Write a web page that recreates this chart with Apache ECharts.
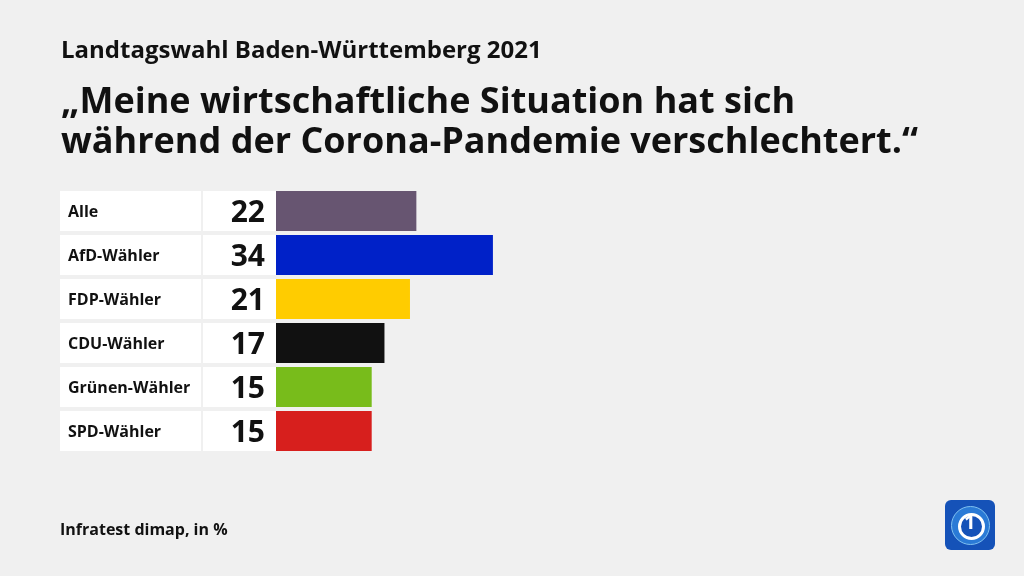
<!DOCTYPE html>
<html><head><meta charset="utf-8">
<script src="https://cdn.jsdelivr.net/npm/echarts@6/dist/echarts.min.js"></script>
<style>html,body{margin:0;padding:0;background:#f0f0f0}#c{width:1024px;height:576px}</style>
</head><body><div id="c"></div>
<script>
const categories = ["Alle", "AfD-Wähler", "FDP-Wähler", "CDU-Wähler", "Grünen-Wähler", "SPD-Wähler"];
const values = [22, 34, 21, 17, 15, 15];
const colors = ["#675571", "#0021c8", "#ffcc00", "#111111", "#78bc1b", "#d71f1d"];
const FONT = "'Open Sans', 'Noto Sans', sans-serif";

const chart = echarts.init(document.getElementById('c'));
chart.setOption({
  backgroundColor: '#f0f0f0',
  animation: false,
  grid: { left: 276, top: 189, width: 638, height: 264 },
  xAxis: { type: 'value', min: 0, max: 100, show: false },
  yAxis: { type: 'category', data: categories, inverse: true, show: false },
  title: [
    { text: 'Landtagswahl Baden-Württemberg 2021', left: 56, top: 34,
      textStyle: { fontFamily: FONT, fontSize: 24, fontWeight: 'bold', color: '#111' } },
    { text: '„Meine wirtschaftliche Situation hat sich\nwährend der Corona-Pandemie verschlechtert.“', left: 56, top: 78,
      textStyle: { fontFamily: FONT, fontSize: 36, fontWeight: 'bold', color: '#111', lineHeight: 40 } },
    { text: 'Infratest dimap, in %', left: 55, top: 517,
      textStyle: { fontFamily: FONT, fontSize: 16, fontWeight: 'bold', color: '#111' } }
  ],
  series: [
    {
      type: 'custom',
      silent: true,
      data: categories.map((c, i) => [0, i, values[i]]),
      encode: { x: 0, y: 1 },
      renderItem: function (params, api) {
        const p = api.coord([0, api.value(1)]);
        const h = 40;
        const i = api.value(1);
        return {
          type: 'group',
          children: [
            { type: 'rect', shape: { x: p[0] - 216, y: p[1] - h / 2, width: 141, height: h }, style: { fill: '#ffffff' } },
            { type: 'rect', shape: { x: p[0] - 73, y: p[1] - h / 2, width: 73, height: h }, style: { fill: '#ffffff' } },
            { type: 'text', style: { x: p[0] - 208, y: p[1] + 1, text: categories[i], fill: '#111', font: "bold 16px " + FONT, verticalAlign: 'middle' } },
            { type: 'text', style: { x: p[0] - 11, y: p[1] + 2, text: String(api.value(2)), fill: '#111', font: "bold 30px " + FONT, align: 'right', verticalAlign: 'middle' } }
          ]
        };
      }
    },
    {
      type: 'bar',
      barWidth: 40,
      silent: true,
      data: values.map((v, i) => ({ value: v, itemStyle: { color: colors[i] } }))
    }
  ],
  graphic: [
    { type: 'rect', left: 945, top: 500, shape: { width: 50, height: 50, r: 6 }, style: { fill: '#1552b8' } },
    { type: 'circle', left: 951, top: 506, shape: { r: 19 }, style: { fill: '#2a7ad6', stroke: '#7fc0f0', lineWidth: 1 } },
    { type: 'circle', left: 958, top: 513, shape: { r: 12 }, style: { fill: '#1552b8', stroke: '#ffffff', lineWidth: 3 } },
    { type: 'text', left: 964, top: 513, style: { text: '1', fill: '#ffffff', font: 'bold 20px ' + FONT } }
  ]
});
</script></body></html>
